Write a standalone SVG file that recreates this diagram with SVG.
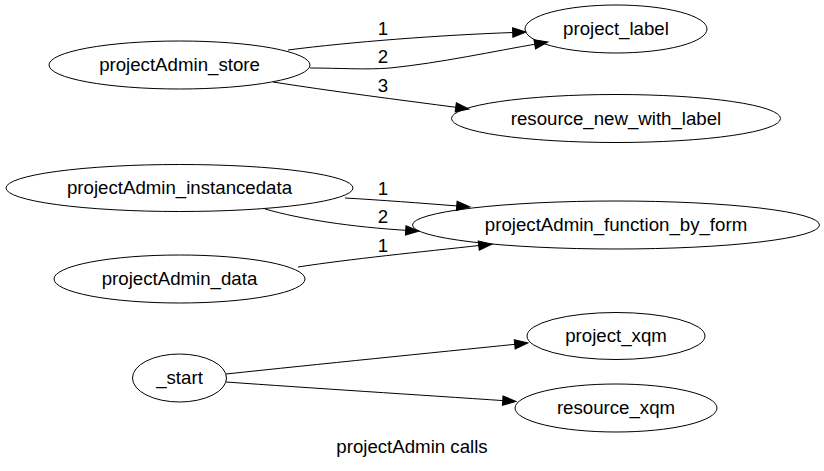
<svg xmlns="http://www.w3.org/2000/svg" width="824" height="471" viewBox="0 0 824 471">
<style>
.node ellipse{fill:none;stroke:#000;stroke-width:1}
text{font-family:"Liberation Sans",Arial,sans-serif;font-size:18.67px;fill:#000;text-anchor:middle}
.edge path{fill:none;stroke:#000;stroke-width:1;marker-end:url(#arr)}
</style>
<defs>
<marker id="arr" markerUnits="userSpaceOnUse" markerWidth="14" markerHeight="10" refX="3.3" refY="4.67" orient="auto" overflow="visible">
<path d="M0,0 L13.3,4.67 L0,9.33 Z" fill="#000" stroke="#000" stroke-width="1"/>
</marker>
</defs>
<rect x="0" y="0" width="824" height="471" fill="#fff"/>
<g id="edges" class="edge">
<path d="M288,50 C350,42 440,35 516,32.4"/>
<text x="383" y="35">1</text>
<path d="M310,68 C340,68 365,70 390,68 C440,63 495,51 538,43.7"/>
<text x="383" y="63">2</text>
<path d="M273,82 C330,91 400,100 459,107.7"/>
<text x="383" y="92">3</text>
<path d="M345,198 C380,200 420,203 460,206.2"/>
<text x="383" y="195">1</text>
<path d="M265,209 C300,219 350,227 409,230.5"/>
<text x="383" y="223">2</text>
<path d="M298,267 C350,259 420,252 482,245.2"/>
<text x="383" y="252">1</text>
<path d="M226,374 C320,364 430,353 518,344"/>
<path d="M226,382 C310,388 420,395 506,400.8"/>
</g>
<g id="projectAdmin_store" class="node"><ellipse cx="179.5" cy="65" rx="130.5" ry="24"/><text x="179.5" y="71">projectAdmin_store</text></g>
<g id="project_label" class="node"><ellipse cx="616" cy="29" rx="91" ry="24"/><text x="616" y="35">project_label</text></g>
<g id="resource_new_with_label" class="node"><ellipse cx="616" cy="118.5" rx="164.5" ry="24"/><text x="616" y="124.5">resource_new_with_label</text></g>
<g id="projectAdmin_instancedata" class="node"><ellipse cx="179.5" cy="188" rx="173.5" ry="23.5"/><text x="179.5" y="194">projectAdmin_instancedata</text></g>
<g id="projectAdmin_function_by_form" class="node"><ellipse cx="616" cy="225" rx="203.5" ry="24"/><text x="616" y="231">projectAdmin_function_by_form</text></g>
<g id="projectAdmin_data" class="node"><ellipse cx="179.5" cy="279" rx="125.5" ry="24"/><text x="179.5" y="285">projectAdmin_data</text></g>
<g id="_start" class="node"><ellipse cx="179.5" cy="378" rx="47" ry="24"/><text x="179.5" y="384">_start</text></g>
<g id="project_xqm" class="node"><ellipse cx="616" cy="336" rx="89" ry="23.5"/><text x="616" y="342">project_xqm</text></g>
<g id="resource_xqm" class="node"><ellipse cx="616" cy="408" rx="101" ry="24"/><text x="616" y="414">resource_xqm</text></g>
<text x="412" y="453">projectAdmin calls</text>
</svg>
